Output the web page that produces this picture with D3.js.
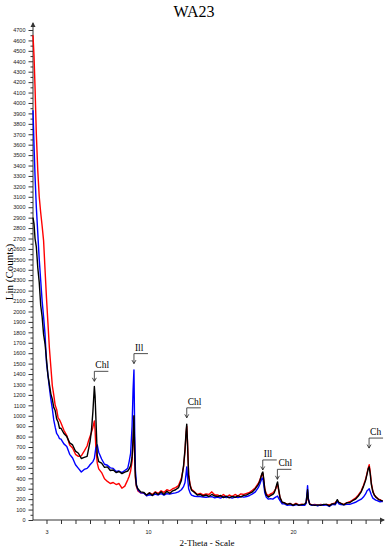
<!DOCTYPE html>
<html><head><meta charset="utf-8">
<script src="https://cdn.jsdelivr.net/npm/d3@7"></script>
<style>body{margin:0;background:#fff}svg{display:block}</style>
</head><body><svg id="c" width="389" height="550"></svg>
<script>
// 2-theta positions (degrees)
const twoTheta = [
  2.07, 2.14, 2.21, 2.3, 2.4, 2.5, 2.6, 2.7, 2.8, 2.9,
  3.0, 3.1, 3.2, 3.3, 3.4, 3.5, 3.6, 3.7, 3.8, 3.9,
  4.0, 4.2, 4.4, 4.6, 4.8, 5.0, 5.2, 5.4, 5.6, 5.8,
  5.9, 6.0, 6.1, 6.2, 6.25, 6.3, 6.35, 6.4, 6.5, 6.6,
  6.8, 7.0, 7.2, 7.4, 7.6, 7.8, 8.0, 8.2, 8.4, 8.6,
  8.7, 8.8, 8.9, 8.97, 9.03, 9.08, 9.13, 9.2, 9.3, 9.5,
  9.7, 9.9, 10.1, 10.3, 10.5, 10.7, 10.9, 11.1, 11.3, 11.5,
  11.7, 11.9, 12.1, 12.3, 12.45, 12.55, 12.62, 12.67, 12.72, 12.8,
  12.9, 13.0, 13.2, 13.4, 13.6, 13.8, 14.0, 14.2, 14.4, 14.6,
  14.8, 15.0, 15.2, 15.4, 15.6, 15.8, 16.0, 16.2, 16.4, 16.6,
  16.8, 17.0, 17.2, 17.4, 17.6, 17.7, 17.8, 17.86, 17.92, 17.98,
  18.05, 18.15, 18.3, 18.45, 18.6, 18.7, 18.8, 18.87, 18.93, 19.0,
  19.1, 19.25, 19.4, 19.6, 19.8, 20.0, 20.2, 20.4, 20.6, 20.8,
  20.9, 20.96, 21.0, 21.05, 21.15, 21.3, 21.5, 21.7, 21.9, 22.1,
  22.3, 22.5, 22.7, 22.9, 23.05, 23.15, 23.3, 23.5, 23.7, 23.9,
  24.1, 24.3, 24.5, 24.7, 24.85, 25.0, 25.1, 25.18, 25.25, 25.32,
  25.4, 25.5, 25.6, 25.7, 25.8, 25.9, 26.0, 26.1, 26.18
];
// Lin (Counts) - black pattern
const black = [
  2900, 2840, 2700, 2620, 2420, 2280, 2060, 1950, 1780, 1690,
  1540, 1390, 1300, 1210, 1160, 1080, 1050, 970, 940, 880,
  880, 830, 800, 740, 720, 660, 640, 590, 600, 610,
  680, 750, 860, 1040, 1160, 1280, 1190, 1000, 620, 560,
  545, 505, 510, 475, 480, 455, 465, 445, 460, 470,
  490, 520, 600, 780, 1000, 640, 420, 330, 300, 270,
  265, 240, 260, 235, 265, 245, 270, 245, 275, 255,
  280, 290, 310, 380, 520, 680, 840, 920, 740, 420,
  330, 285, 265, 240, 245, 230, 240, 225, 245, 230,
  225, 235, 215, 228, 212, 226, 218, 232, 222, 236,
  240, 255, 270, 300, 340, 370, 420, 450, 460, 390,
  290, 240, 220, 235, 245, 260, 300, 340, 365, 300,
  215, 170, 165, 150, 158, 140, 155, 140, 148, 152,
  170, 240, 290, 200, 150, 145, 140, 145, 140, 150,
  150, 135, 155, 155, 195, 170, 160, 145, 165, 165,
  185, 200, 230, 270, 320, 380, 440, 490, 510, 440,
  340, 270, 240, 220, 210, 195, 190, 185, 180
];
// Lin (Counts) - red pattern
const red = [
  4650, 4450, 4150, 3700, 3350, 3100, 2950, 2820, 2680, 2400,
  2130, 1890, 1650, 1470, 1290, 1200, 1100, 1060, 980, 960,
  930, 860, 810, 720, 690, 630, 610, 615, 660, 710,
  760, 800, 840, 890, 920, 950, 860, 700, 545, 490,
  455, 395, 370, 350, 360, 340, 350, 305, 325, 385,
  420, 470, 560, 760, 990, 620, 400, 320, 280, 260,
  260, 235, 260, 245, 270, 255, 280, 265, 290, 280,
  300, 310, 330, 400, 510, 660, 820, 900, 760, 440,
  340, 295, 270, 245, 255, 240, 250, 245, 270, 240,
  240, 225, 245, 220, 240, 225, 245, 230, 250, 245,
  255, 265, 285, 310, 350, 380, 420, 440, 445, 380,
  300, 250, 235, 250, 260, 275, 300, 330, 340, 290,
  215, 165, 165, 150, 158, 145, 160, 145, 152, 145,
  165, 220, 265, 190, 155, 145, 150, 140, 150, 145,
  150, 145, 155, 165, 185, 170, 160, 150, 165, 175,
  190, 210, 240, 280, 330, 390, 450, 500, 530, 460,
  350, 280, 240, 225, 210, 200, 195, 185, 180
];
// Lin (Counts) - blue pattern
const blue = [
  3930, 3600, 3300, 3000, 2750, 2500, 2300, 2100, 1950, 1780,
  1510, 1390, 1270, 1160, 1070, 960, 890, 830, 810, 780,
  775, 730, 705, 630, 595, 530, 495, 460, 485, 495,
  510, 530, 545, 560, 575, 590, 640, 690, 720, 650,
  585, 535, 525, 500, 495, 465, 470, 455, 475, 495,
  560, 640, 900, 1250, 1440, 850, 480, 340, 290, 260,
  258, 232, 242, 236, 248, 240, 252, 238, 252, 248,
  255, 260, 270, 290, 320, 360, 440, 510, 420, 300,
  260, 238, 228, 226, 224, 220, 218, 222, 224, 212,
  220, 210, 225, 215, 220, 210, 220, 215, 225, 220,
  225, 235, 250, 270, 310, 340, 380, 400, 400, 340,
  260, 220, 200, 205, 200, 210, 220, 225, 230, 210,
  185, 155, 155, 140, 145, 138, 145, 145, 142, 140,
  160, 260, 330, 210, 150, 140, 145, 135, 145, 140,
  145, 130, 150, 146, 178, 156, 148, 145, 150, 150,
  160, 170, 185, 200, 220, 250, 280, 290, 300, 270,
  240, 210, 200, 190, 185, 180, 175, 180, 175
];
const yTickValues = d3.range(0, 4701, 100);
const xTickValues = d3.range(3, 27, 1);
const xTickLabels = [3, 10, 20];
const annLabels = ["Chl", "Ill", "Chl", "Ill", "Chl", "Ch"];
const annTheta = [6.30, 9.03, 12.67, 17.91, 18.92, 25.24];
const annCounts = [1330, 1500, 980, 480, 390, 690];

const svg = d3.select("#c");
const x = d3.scaleLinear().domain([2.07, 26.2]).range([33, 383]);
const y = d3.scaleLinear().domain([0, 4700]).range([520, 30]);
const axisColor = "#333";

// title
svg.append("text").attr("x", 194).attr("y", 17).attr("text-anchor", "middle")
  .style("font-family", "'Liberation Serif', 'Times New Roman', serif").style("font-size", "16px")
  .text("WA23");

// y axis
const yAxis = svg.append("g").attr("transform", "translate(33,0)")
  .call(d3.axisLeft(y).tickValues(yTickValues).tickSize(4.5).tickPadding(3).tickFormat(d => d));
yAxis.select(".domain").remove();
yAxis.selectAll("line").attr("stroke", axisColor);
yAxis.selectAll("text").style("font-family", "'Liberation Sans', Arial, sans-serif").style("font-size", "5.5px").attr("fill", "#222");
svg.append("g").attr("transform", "translate(33,0)")
  .call(d3.axisLeft(y).tickValues(yTickValues.slice(0, -1).map(v => v + 50)).tickSize(2.5).tickFormat(""))
  .call(g => g.select(".domain").remove())
  .selectAll("line").attr("stroke", axisColor);
svg.append("line").attr("x1", 33).attr("x2", 33).attr("y1", 520).attr("y2", 23).attr("stroke", axisColor);
svg.append("path").attr("d", "M30.5,27 L33,22 L35.5,27 Z").attr("fill", axisColor);

// x axis
const xAxis = svg.append("g").attr("transform", "translate(0,520)")
  .call(d3.axisBottom(x).tickValues(xTickValues).tickSize(4).tickPadding(6)
    .tickFormat(d => xTickLabels.includes(d) ? d : ""));
xAxis.select(".domain").remove();
xAxis.selectAll("line").attr("stroke", axisColor);
xAxis.selectAll("text").style("font-family", "'Liberation Sans', Arial, sans-serif").style("font-size", "5.5px").attr("fill", "#222");
svg.append("line").attr("x1", 33).attr("x2", 384).attr("y1", 520).attr("y2", 520).attr("stroke", axisColor);
svg.append("path").attr("d", "M380,517.5 L385,520 L380,522.5 Z").attr("fill", axisColor);

// axis titles
svg.append("text").attr("transform", "translate(13,272) rotate(-90)").attr("text-anchor", "middle")
  .style("font-family", "'Liberation Serif', 'Times New Roman', serif").style("font-size", "11px")
  .text("Lin (Counts)");
svg.append("text").attr("x", 207).attr("y", 546).attr("text-anchor", "middle")
  .style("font-family", "'Liberation Serif', 'Times New Roman', serif").style("font-size", "9px")
  .text("2-Theta - Scale");

// patterns
const n = Math.min(twoTheta.length, black.length, red.length, blue.length);
const line = d3.line().x(d => x(d[0])).y(d => y(d[1]));
[[red, "#ff0000"], [blue, "#0000ff"], [black, "#000000"]].forEach(([vals, col]) => {
  const pts = d3.range(n).map(i => [twoTheta[i], vals[i]]);
  svg.append("path").datum(pts).attr("d", line).attr("fill", "none")
    .attr("stroke", col).attr("stroke-width", 1.4).attr("stroke-linejoin", "round");
});

// annotations
annLabels.forEach((lab, i) => {
  const px = x(annTheta[i]);
  const tip = y(annCounts[i]);
  const by = tip - 10;
  const g = svg.append("g").attr("stroke", "#222").attr("fill", "none").attr("stroke-width", 0.8);
  g.append("path").attr("d", `M${px + 14},${by} L${px},${by} L${px},${tip}`);
  g.append("path").attr("d", `M${px - 2},${tip - 3.5} L${px},${tip} L${px + 2},${tip - 3.5}`);
  svg.append("text").attr("x", px + 1).attr("y", by - 3)
    .style("font-family", "'Liberation Serif', 'Times New Roman', serif").style("font-size", "9.5px")
    .text(lab);
});
</script></body></html>
